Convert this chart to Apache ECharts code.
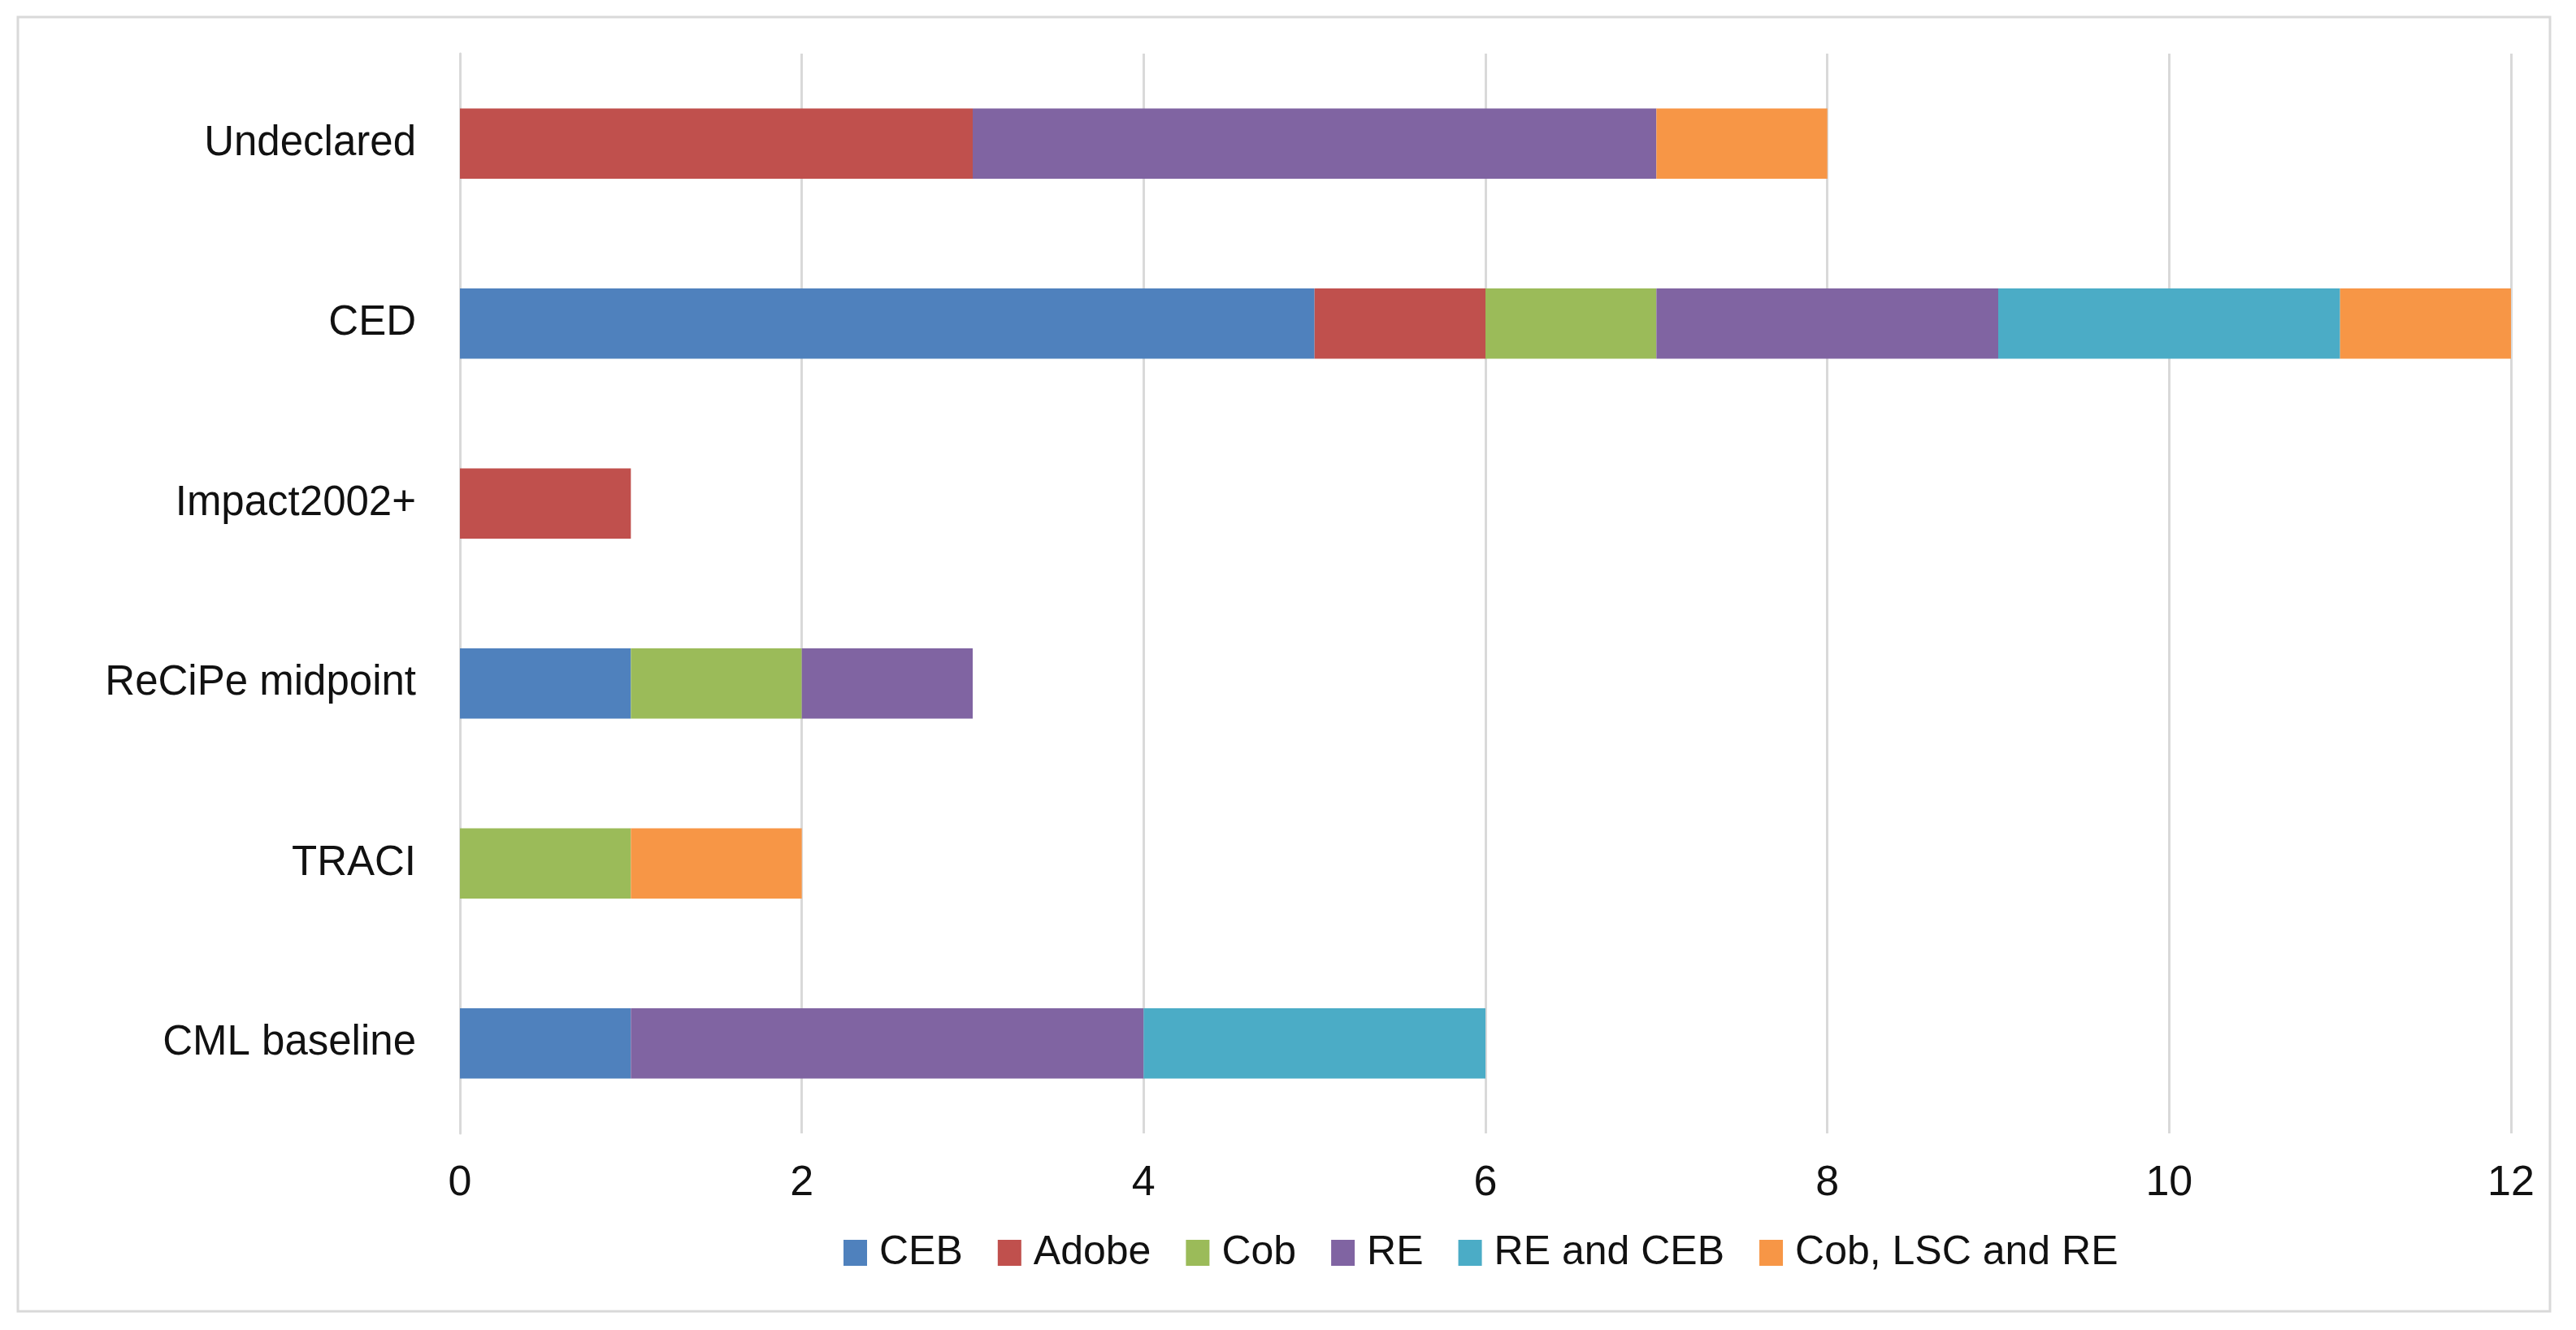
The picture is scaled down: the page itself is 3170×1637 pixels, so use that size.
<!DOCTYPE html>
<html>
<head>
<meta charset="utf-8">
<script src="https://cdn.jsdelivr.net/npm/echarts@6/dist/echarts.min.js"></script>
<style>
html,body{margin:0;padding:0;background:#fff;}
#chart{width:3170px;height:1637px;}
</style>
</head>
<body>
<div id="chart"></div>
<script>
const categories = ["CML baseline", "TRACI", "ReCiPe midpoint", "Impact2002+", "CED", "Undeclared"];
const seriesNames = ["CEB", "Adobe", "Cob", "RE", "RE and CEB", "Cob, LSC and RE"];
const CEB = [1, 0, 1, 0, 5, 0];
const Adobe = [0, 0, 0, 1, 1, 3];
const Cob = [0, 1, 1, 0, 1, 0];
const RE = [3, 0, 1, 0, 2, 4];
const RE_and_CEB = [2, 0, 0, 0, 2, 0];
const Cob_LSC_RE = [0, 1, 0, 0, 1, 1];
const xTicks = [0, 2, 4, 6, 8, 10, 12];

const colors = ["#4F81BD", "#C0504D", "#9BBB59", "#8064A2", "#4BACC6", "#F79646"];
const values = [CEB, Adobe, Cob, RE, RE_and_CEB, Cob_LSC_RE];
const FONT = "'Liberation Sans Narrow', 'Arial Narrow', 'Liberation Sans', sans-serif";

const chart = echarts.init(document.getElementById('chart'), null, {renderer: 'canvas'});
chart.setOption({
  backgroundColor: '#ffffff',
  animation: false,
  textStyle: {fontFamily: FONT},
  graphic: [{
    type: 'rect',
    shape: {x: 22, y: 21, width: 3116, height: 1593},
    style: {fill: 'none', stroke: '#d9d9d9', lineWidth: 3},
    silent: true
  }],
  grid: {left: 566, right: 80, top: 66, bottom: 242, containLabel: false},
  legend: {
    data: seriesNames,
    left: 1033,
    top: 1512,
    itemWidth: 29,
    itemHeight: 32,
    itemGap: 43,
    icon: 'rect',
    textStyle: {fontSize: 50, color: '#111', fontFamily: FONT, padding: [0, 0, 0, 10]}
  },
  xAxis: {
    type: 'value',
    min: xTicks[0],
    max: xTicks[xTicks.length - 1],
    interval: xTicks[1] - xTicks[0],
    axisLine: {show: false},
    axisTick: {show: false},
    splitLine: {show: true, lineStyle: {color: '#d9d9d9', width: 3}},
    axisLabel: {fontSize: 52, color: '#111', margin: 36, fontFamily: FONT}
  },
  yAxis: {
    type: 'category',
    data: categories,
    axisLine: {show: true, lineStyle: {color: '#d9d9d9', width: 3}},
    axisTick: {show: false},
    axisLabel: {fontSize: 51, color: '#111', margin: 54, fontFamily: FONT}
  },
  series: seriesNames.map((n, i) => ({
    name: n,
    type: 'bar',
    stack: 'total',
    barCategoryGap: '61%',
    itemStyle: {color: colors[i]},
    data: values[i].map(v => v === 0 ? null : v)
  }))
});
</script>
</body>
</html>
